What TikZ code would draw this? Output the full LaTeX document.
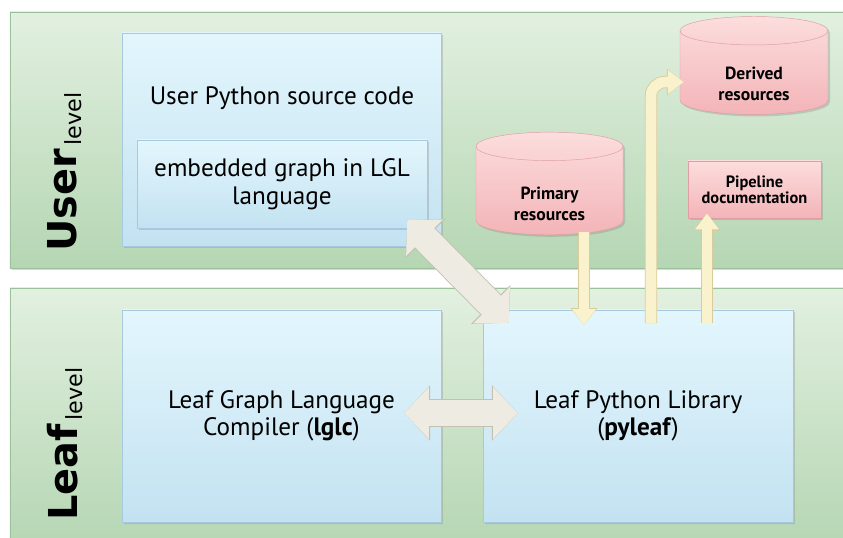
\documentclass[tikz,border=0pt]{standalone}
\usepackage{fontspec}
\setmainfont{PT Sans}
\newfontfamily\labelfont{DejaVu Sans}
\usetikzlibrary{positioning,shapes.geometric,shadows,arrows.meta,calc}

\definecolor{panelTop}{HTML}{E2F0E0}
\definecolor{panelBot}{HTML}{B5D6B3}
\definecolor{panelLine}{HTML}{9CC09A}
\definecolor{boxTop}{HTML}{E3F6FD}
\definecolor{boxBot}{HTML}{C3E2F1}
\definecolor{boxLine}{HTML}{A6C9DD}
\definecolor{pinkTop}{HTML}{FCDDDD}
\definecolor{pinkBot}{HTML}{F3B4B8}
\definecolor{pinkLine}{HTML}{DE9EA3}
\definecolor{pipeFill}{HTML}{F9F2CD}
\definecolor{pipeLine}{HTML}{D8CC9C}
\definecolor{fatFill}{HTML}{EDEBE2}
\definecolor{fatLine}{HTML}{C4C0B2}

\tikzset{
  shade/.style={drop shadow={opacity=0.3, shadow xshift=0.6mm, shadow yshift=-0.6mm}},
  panel/.style={rectangle, draw=panelLine, top color=panelTop, bottom color=panelBot, shade},
  bluebox/.style={rectangle, draw=boxLine, top color=boxTop, bottom color=boxBot, shade, align=center, font=\fontsize{21.5}{23.5}\selectfont},
  store/.style={cylinder, shape border rotate=90, aspect=0.36, draw=pinkLine, top color=pinkTop, bottom color=pinkBot, shade, align=center, font=\bfseries\fontsize{15}{18}\selectfont},
  docbox/.style={rectangle, draw=pinkLine, top color=pinkTop, bottom color=pinkBot, shade, align=center, font=\bfseries\fontsize{14}{14}\selectfont},
  levellabel/.style={rotate=90, anchor=base west, inner sep=0pt, font=\labelfont},
  pipe/.style={line width=9pt, pipeFill, -{Triangle[length=13.5pt,width=19.5pt]},
    preaction={draw=pipeLine, line width=10.5pt, -{Triangle[length=14.5pt,width=22pt]}}},
  fatarrow/.style={line width=23pt, fatFill, {Triangle[length=21pt,width=43pt]}-{Triangle[length=21pt,width=43pt]},
    preaction={draw=fatLine, line width=24.5pt, {Triangle[length=22pt,width=46pt]}-{Triangle[length=22pt,width=46pt]}}}
}

\begin{document}
\begin{tikzpicture}[x=0.03cm, y=-0.03cm]
    \useasboundingbox[fill=white] (0,0) rectangle (843,538);

    % Level panels
    \node[panel, minimum width=25.14cm, minimum height=7.68cm] (userpanel) at (429,140) {};
    \node[panel, minimum width=25.14cm, minimum height=7.8cm] (leafpanel) at (429,418) {};
    \node[levellabel] (userlevel) at (76,252) {{\bfseries\fontsize{34}{34}\selectfont User}\hspace{3pt}\raisebox{-5pt}{\fontsize{19}{19}\selectfont level}};
    \node[levellabel] (leaflevel) at (77,521) {{\bfseries\fontsize{34}{34}\selectfont Leaf}\hspace{3pt}\raisebox{-5pt}{\fontsize{19}{19}\selectfont level}};

    % User level
    \node[bluebox, minimum width=9.57cm, minimum height=6.39cm] (usercode) at (281.5,139.5) {};
    \node[font=\fontsize{21.5}{24}\selectfont] (usertitle) at (282,98) {User Python source code};
    \node[bluebox, minimum width=8.7cm, minimum height=2.64cm] (lgl) at (282,184) {embedded graph in LGL\\language};
    \node[store, minimum width=4.41cm, minimum height=2.7cm] (primary) at (549.5,193) {\\[12pt]Primary\\resources};
    \node[store, minimum width=4.44cm, minimum height=2.46cm] (derived) at (754,75) {\\[8pt]Derived\\resources};
    \node[docbox, minimum width=3.99cm, minimum height=1.71cm] (pipedoc) at (754.5,189.5) {Pipeline\\documentation};

    % Leaf level
    \node[bluebox, minimum width=9.57cm, minimum height=6.36cm] (lglc) at (281.5,416) {Leaf Graph Language\\Compiler (\textbf{lglc})};
    \node[bluebox, minimum width=9.3cm, minimum height=6.36cm] (pyleaf) at (638,416) {Leaf Python Library\\(\textbf{pyleaf})};

    % Exchanges between the tools
    \draw[fatarrow] ([shift={(-20,-8)}]lgl.south east) -- ([shift={(26,13)}]pyleaf.north west);
    \draw[fatarrow] ([shift={(-37,-3)}]lglc.east) -- ([shift={(35,-3)}]pyleaf.west);

    % Resource flow
    \coordinate (readin) at (584,325);
    \coordinate (writeout) at (651,323);
    \coordinate (docout) at (707,323);
    \draw[pipe] (readin |- 0,232) -- (readin);
    \draw[pipe, rounded corners=12] (writeout) -- (writeout |- 0,82) -- ([shift={(4,7)}]derived.west);
    \draw[pipe] (docout) -- ([yshift=4]docout |- pipedoc.south);
\end{tikzpicture}
\end{document}
